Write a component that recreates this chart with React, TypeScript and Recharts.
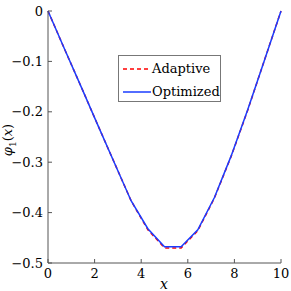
import { LineChart, Line, XAxis, YAxis } from 'recharts'

const xValues = [0, 0.714, 1.429, 2.143, 2.857, 3.571, 4.286, 5.0, 5.714, 6.429, 7.143, 7.857, 8.571, 9.286, 10]
const adaptive = [0, -0.076, -0.151, -0.227, -0.302, -0.377, -0.434, -0.470, -0.470, -0.436, -0.371, -0.289, -0.197, -0.098, 0]
const optimized = [0, -0.076, -0.151, -0.227, -0.302, -0.377, -0.432, -0.468, -0.468, -0.434, -0.370, -0.288, -0.196, -0.098, 0]
const xTicks = [0, 2, 4, 6, 8, 10]
const yTicks = [-0.5, -0.4, -0.3, -0.2, -0.1, 0]
const seriesNames = ['Adaptive', 'Optimized']

const data = xValues.map((x, i) => ({ x, Adaptive: adaptive[i], Optimized: optimized[i] }))

const FONT = 'DejaVu Serif'
const AXIS = '#555'
const TICK = 4

const fmt = (v: number) => (v < 0 ? `\u2212${Math.abs(v)}` : `${v}`)

const LeftTick = (props: any) => {
  const { x, y, payload } = props
  return (
    <g>
      <line x1={x + 5} x2={x + 5 + TICK} y1={y} y2={y} stroke={AXIS} />
      <text x={x} y={y + 4.5} textAnchor="end" fontFamily={FONT} fontSize={13} fill="#000">
        {fmt(payload.value)}
      </text>
    </g>
  )
}

const BottomTick = (props: any) => {
  const { x, y, payload } = props
  return (
    <g>
      <line x1={x} x2={x} y1={y} y2={y - TICK} stroke={AXIS} />
      <text x={x} y={y + 15} textAnchor="middle" fontFamily={FONT} fontSize={13} fill="#000">
        {payload.value}
      </text>
    </g>
  )
}

const TopTick = (props: any) => {
  const { x, y } = props
  return <line x1={x} x2={x} y1={y} y2={y + TICK} stroke={AXIS} />
}

const RightTick = (props: any) => {
  const { x, y } = props
  return <line x1={x} x2={x - TICK} y1={y} y2={y} stroke={AXIS} />
}

const LegendBox = () => (
  <div
    style={{
      position: 'absolute',
      left: 118,
      top: 55,
      border: '1px solid #777',
      background: '#fff',
      width: 103,
      height: 47,
      boxSizing: 'border-box',
      fontFamily: FONT,
      fontSize: 13,
      color: '#000',
      padding: '3px 0 0 4px',
    }}
  >
    {seriesNames.map((name, i) => (
      <div key={name} style={{ display: 'flex', alignItems: 'center', height: 19, marginTop: i ? 4 : 0 }}>
        <svg width={28} height={4}>
          <line
            x1={0}
            x2={28}
            y1={2}
            y2={2}
            stroke={i ? '#1a3cff' : '#ff0000'}
            strokeWidth={1.5}
            strokeDasharray={i ? undefined : '4 3'}
          />
        </svg>
        <span style={{ marginLeft: 1 }}>{name}</span>
      </div>
    ))}
  </div>
)

export default function App() {
  return (
    <div style={{ position: 'absolute', left: 0, top: 0, width: 291, height: 291, background: '#fff' }}>
      <LineChart width={291} height={291} data={data} margin={{ top: 11, right: 10, left: 0, bottom: 0 }}>
        <XAxis
          dataKey="x"
          type="number"
          domain={[0, 10]}
          ticks={xTicks}
          height={28}
          tickLine={false}
          tickSize={0}
          tickMargin={0}
          axisLine={{ stroke: AXIS }}
          tick={<BottomTick />}
          interval={0}
        />
        <XAxis
          xAxisId="top"
          dataKey="x"
          type="number"
          orientation="top"
          domain={[0, 10]}
          ticks={xTicks}
          height={0}
          tickLine={false}
          tickSize={0}
          tickMargin={0}
          axisLine={{ stroke: AXIS }}
          tick={<TopTick />}
          interval={0}
        />
        <YAxis
          type="number"
          domain={[-0.5, 0]}
          ticks={yTicks}
          width={48}
          tickLine={false}
          tickSize={0}
          tickMargin={5}
          axisLine={{ stroke: AXIS }}
          tick={<LeftTick />}
          interval={0}
        />
        <YAxis
          yAxisId="right"
          type="number"
          orientation="right"
          domain={[-0.5, 0]}
          ticks={yTicks}
          width={0}
          tickLine={false}
          tickSize={0}
          tickMargin={0}
          axisLine={{ stroke: AXIS }}
          tick={<RightTick />}
          interval={0}
        />
        <Line
          type="linear"
          dataKey="Adaptive"
          stroke="#ff0000"
          strokeWidth={1.5}
          strokeDasharray="4 3"
          dot={false}
          isAnimationActive={false}
        />
        <Line
          type="linear"
          dataKey="Optimized"
          stroke="#1a3cff"
          strokeWidth={1.5}
          dot={false}
          isAnimationActive={false}
        />
      </LineChart>
      <LegendBox />
      <div
        style={{
          position: 'absolute',
          left: 9,
          top: 140,
          transform: 'translate(-50%, -50%) rotate(-90deg)',
          fontFamily: FONT,
          fontSize: 13,
          fontStyle: 'italic',
          whiteSpace: 'nowrap',
        }}
      >
        φ<sub style={{ fontStyle: 'normal', fontSize: 9 }}>1</sub>
        <span style={{ fontStyle: 'normal' }}>(</span>x<span style={{ fontStyle: 'normal' }}>)</span>
      </div>
      <div
        style={{
          position: 'absolute',
          left: 164,
          top: 284,
          transform: 'translate(-50%, -50%)',
          fontFamily: FONT,
          fontSize: 14,
          fontStyle: 'italic',
        }}
      >
        x
      </div>
    </div>
  )
}
